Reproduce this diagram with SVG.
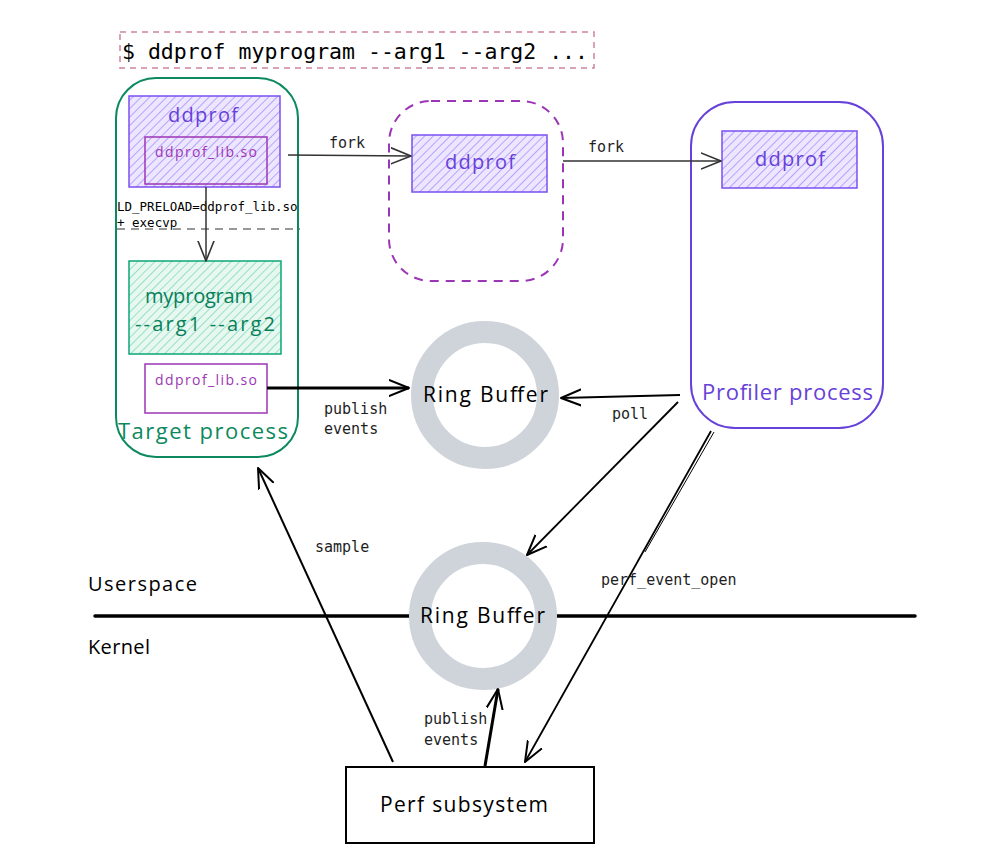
<svg xmlns="http://www.w3.org/2000/svg" width="983" height="862" viewBox="0 0 983 862">
<defs>
<pattern id="hatchP" patternUnits="userSpaceOnUse" width="6" height="6" patternTransform="rotate(45)">
<rect width="6" height="6" fill="#ece6ff"/>
<line x1="0" y1="0" x2="0" y2="6" stroke="#a88bfa" stroke-width="1.5"/>
</pattern>
<pattern id="hatchG" patternUnits="userSpaceOnUse" width="6" height="6" patternTransform="rotate(45)">
<rect width="6" height="6" fill="#e6f8f0"/>
<line x1="0" y1="0" x2="0" y2="6" stroke="#7fd8b4" stroke-width="1.5"/>
</pattern>
<marker id="ah" markerUnits="userSpaceOnUse" markerWidth="24" markerHeight="24" refX="20" refY="10" orient="auto" viewBox="0 0 24 20">
<path d="M0,2 L20,10 L0,18" fill="none" stroke="#000" stroke-width="2" stroke-linecap="round" stroke-linejoin="round"/>
</marker>
<marker id="ahg" markerUnits="userSpaceOnUse" markerWidth="24" markerHeight="24" refX="20" refY="10" orient="auto" viewBox="0 0 24 20">
<path d="M0,2 L20,10 L0,18" fill="none" stroke="#333" stroke-width="1.6" stroke-linecap="round" stroke-linejoin="round"/>
</marker>
</defs>
<style>
.hand{font-family:"Open Sans","Lato",sans-serif;}
.mono{font-family:"DejaVu Sans Mono","Liberation Mono",monospace;}
.lbl{font-family:"DejaVu Sans Mono","Liberation Mono",monospace;font-size:15px;fill:#1e1e1e;}
.pbox{fill:url(#hatchP);stroke:#7950f2;stroke-width:1.5;}
.lib{fill:none;stroke:#9c36b5;stroke-width:1.5;}
.ring{fill:#fff;stroke:#ced4da;stroke-width:22;}
.ringt{font-size:21px;fill:#000;}
.conn{fill:none;stroke:#000;}
</style>

<rect width="983" height="862" fill="#fff"/>

<g id="command">
<rect x="120" y="32" width="474" height="36" fill="none" stroke="#d0829f" stroke-width="1.5" stroke-dasharray="6,5"/>
<text x="122" y="59" class="mono" font-size="21.5px" fill="#000">$ ddprof myprogram --arg1 --arg2 ...</text>
</g>

<g id="userspace-kernel">
<line x1="95" y1="616" x2="915" y2="616" stroke="#000" stroke-width="3.5" stroke-linecap="round"/>
<text x="88" y="591" class="hand" font-size="20px" fill="#000" textLength="109">Userspace</text>
<text x="88" y="654" class="hand" font-size="20px" fill="#000" textLength="62">Kernel</text>
</g>

<g id="target-process">
<rect x="116" y="78" width="182" height="379" rx="40" fill="none" stroke="#0c8a5e" stroke-width="2"/>
<text x="118" y="439" class="hand" font-size="22px" fill="#0c8a5e" textLength="170">Target process</text>
</g>

<g id="ddprof-parent">
<rect x="129" y="96" width="151" height="91" class="pbox"/>
<text x="168" y="122" class="hand" font-size="20px" fill="#6741d9" textLength="70">ddprof</text>
</g>

<g id="lib-parent">
<rect x="145" y="137" width="122" height="47" class="lib"/>
<text x="155" y="157" class="hand" font-size="14px" fill="#9c36b5" textLength="102">ddprof_lib.so</text>
</g>

<g id="ld-preload">
<text x="117" y="211" class="mono" font-size="12.5px" fill="#000">LD_PRELOAD=ddprof_lib.so</text>
<text x="117" y="227" class="mono" font-size="12.5px" fill="#000">+ execvp</text>
<line x1="117" y1="229" x2="300" y2="229" stroke="#333" stroke-width="1.2" stroke-dasharray="8,6"/>
</g>

<g id="myprogram">
<rect x="129" y="261" width="152" height="93" fill="url(#hatchG)" stroke="#0ca678" stroke-width="1.5"/>
<text x="145" y="303" class="hand" font-size="20px" fill="#087f5b" textLength="108">myprogram</text>
<text x="135" y="331" class="hand" font-size="20px" fill="#087f5b" textLength="140">--arg1 --arg2</text>
</g>

<g id="lib-target">
<rect x="145" y="364" width="122" height="49" class="lib"/>
<text x="155" y="385" class="hand" font-size="14px" fill="#9c36b5" textLength="102">ddprof_lib.so</text>
</g>

<g id="intermediate-process">
<rect x="389" y="101" width="174" height="180" rx="42" fill="none" stroke="#9c36b5" stroke-width="2" stroke-dasharray="9,7"/>
<rect x="412" y="135" width="135" height="57" class="pbox"/>
<text x="445" y="169" class="hand" font-size="20px" fill="#6741d9" textLength="70">ddprof</text>
</g>

<g id="profiler-process">
<rect x="691" y="102" width="192" height="326" rx="44" fill="none" stroke="#6741d9" stroke-width="2"/>
<rect x="722" y="131" width="135" height="57" class="pbox"/>
<text x="755" y="166" class="hand" font-size="20px" fill="#6741d9" textLength="70">ddprof</text>
<text x="702" y="400" class="hand" font-size="22px" fill="#6741d9" textLength="171">Profiler process</text>
</g>

<g id="ring-buffer-user">
<circle cx="485" cy="395" r="63" class="ring"/>
<text x="423" y="402" class="hand ringt" textLength="125">Ring Buffer</text>
</g>

<g id="ring-buffer-kernel">
<circle cx="483" cy="616" r="63" class="ring"/>
<text x="420" y="623" class="hand ringt" textLength="125">Ring Buffer</text>
</g>

<g id="perf-subsystem">
<rect x="346" y="767" width="248" height="76" fill="#fff" stroke="#000" stroke-width="2"/>
<text x="380" y="812" class="hand" font-size="21px" fill="#000" textLength="168">Perf subsystem</text>
</g>

<g id="connectors">
<line x1="206" y1="187" x2="206" y2="261" stroke="#333" stroke-width="1.5" marker-end="url(#ahg)"/>
<line x1="288" y1="155" x2="411" y2="156" stroke="#333" stroke-width="1.5" marker-end="url(#ahg)"/>
<text x="329" y="148" class="lbl">fork</text>
<line x1="563" y1="161" x2="721" y2="161" stroke="#333" stroke-width="1.5" marker-end="url(#ahg)"/>
<text x="588" y="152" class="lbl">fork</text>
<line x1="267" y1="388" x2="409" y2="388" class="conn" stroke-width="3" marker-end="url(#ah)"/>
<text x="324" y="414" class="lbl">publish</text>
<text x="324" y="434" class="lbl">events</text>
<line x1="680" y1="395" x2="561" y2="398" class="conn" stroke-width="2" marker-end="url(#ah)"/>
<text x="612" y="419" class="lbl">poll</text>
<line x1="678" y1="402" x2="527" y2="555" class="conn" stroke-width="1.8" marker-end="url(#ah)"/>
<line x1="711" y1="431" x2="525" y2="762" class="conn" stroke-width="1.8" marker-end="url(#ah)"/>
<line x1="714" y1="432" x2="645" y2="552" class="conn" stroke-width="1"/>
<text x="601" y="585" class="lbl">perf_event_open</text>
<line x1="393" y1="762" x2="258" y2="468" class="conn" stroke-width="2" marker-end="url(#ah)"/>
<text x="315" y="552" class="lbl">sample</text>
<line x1="485" y1="766" x2="498" y2="689" class="conn" stroke-width="3" marker-end="url(#ah)"/>
<text x="424" y="724" class="lbl">publish</text>
<text x="424" y="745" class="lbl">events</text>
</g>
</svg>
